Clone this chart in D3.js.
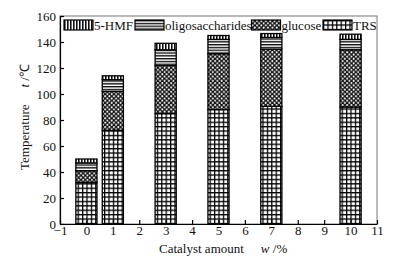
<!DOCTYPE html>
<html>
<head>
<meta charset="utf-8">
<script src="https://cdn.jsdelivr.net/npm/d3@7"></script>
<style>
  body { margin: 0; background: #fff; }
  text { font-family: "Liberation Serif", "Times New Roman", serif; fill: #111; }
</style>
</head>
<body>
<div id="chart"></div>
<script>
// catalyst amounts (w/%) and stacked segment values (temperature-scale units)
const catalyst = [0, 1, 3, 5, 7, 10];
const trs = [32, 72, 85, 88, 90.5, 90];
const glucose = [9, 30, 37, 43, 44, 44];
const oligosaccharides = [6, 9, 12, 11, 9, 8];
const hmf = [3, 3, 5, 3, 3, 4];
const xTicks = [-1, 0, 1, 2, 3, 4, 5, 6, 7, 8, 9, 10, 11];
const yTicks = [0, 20, 40, 60, 80, 100, 120, 140, 160];
const seriesNames = ["TRS", "glucose", "oligosaccharides", "5-HMF"];
const legendOrder = ["5-HMF", "oligosaccharides", "glucose", "TRS"];

const W = 403, H = 263;
const margin = { top: 16, right: 26, bottom: 39, left: 60 };
const width = W - margin.left - margin.right;
const height = H - margin.top - margin.bottom;

const svg = d3.select("#chart").append("svg")
	.attr("width", W)
	.attr("height", H);

// fill patterns
const defs = svg.append("defs");
const patId = { "TRS": "p-trs", "glucose": "p-glu", "oligosaccharides": "p-oli", "5-HMF": "p-hmf" };

let p = defs.append("pattern").attr("id", "p-trs").attr("patternUnits", "userSpaceOnUse")
	.attr("width", 4.4).attr("height", 4.4);
p.append("rect").attr("width", 4.4).attr("height", 4.4).attr("fill", "#fff");
p.append("path").attr("d", "M0,0.6H4.4M0.6,0V4.4").attr("stroke", "#000").attr("stroke-width", 1.3);

p = defs.append("pattern").attr("id", "p-glu").attr("patternUnits", "userSpaceOnUse")
	.attr("width", 4.4).attr("height", 4.4);
p.append("rect").attr("width", 4.4).attr("height", 4.4).attr("fill", "#111");
p.append("circle").attr("cx", 1.1).attr("cy", 1.1).attr("r", 1).attr("fill", "#fff");
p.append("circle").attr("cx", 3.3).attr("cy", 3.3).attr("r", 1).attr("fill", "#fff");

p = defs.append("pattern").attr("id", "p-oli").attr("patternUnits", "userSpaceOnUse")
	.attr("width", 4).attr("height", 2.8);
p.append("rect").attr("width", 4).attr("height", 2.8).attr("fill", "#fff");
p.append("path").attr("d", "M0,0.7H4").attr("stroke", "#000").attr("stroke-width", 1.3);

p = defs.append("pattern").attr("id", "p-hmf").attr("patternUnits", "userSpaceOnUse")
	.attr("width", 3).attr("height", 4);
p.append("rect").attr("width", 3).attr("height", 4).attr("fill", "#fff");
p.append("path").attr("d", "M0.8,0V4").attr("stroke", "#000").attr("stroke-width", 1.5);

const g = svg.append("g")
	.attr("transform", "translate(" + margin.left + "," + margin.top + ")");

// scales
const x = d3.scaleLinear().domain([-1, 11]).range([0, width]);
const y = d3.scaleLinear().domain([0, 160]).range([height, 0]);

// plot frame (top and right)
g.append("rect")
	.attr("width", width)
	.attr("height", height)
	.attr("fill", "none")
	.attr("stroke", "#777")
	.attr("stroke-width", 1);

// stacked data
const rows = catalyst.map((c, i) => ({
	c: c, "TRS": trs[i], "glucose": glucose[i], "oligosaccharides": oligosaccharides[i], "5-HMF": hmf[i]
}));
const stack = d3.stack().keys(seriesNames)(rows);
const barW = x(0.8) - x(0);

g.selectAll(".layer")
	.data(stack)
	.join("g")
	.attr("class", "layer")
	.attr("fill", d => "url(#" + patId[d.key] + ")")
	.selectAll("rect")
	.data(d => d)
	.join("rect")
	.attr("x", d => x(d.data.c) - barW / 2)
	.attr("y", d => y(d[1]))
	.attr("width", barW)
	.attr("height", d => y(d[0]) - y(d[1]))
	.attr("stroke", "#000")
	.attr("stroke-width", 1.3);

// axes
const xAxis = d3.axisBottom(x).tickValues(xTicks).tickSizeInner(-4).tickSizeOuter(0).tickPadding(2);
const yAxis = d3.axisLeft(y).tickValues(yTicks).tickSizeInner(-4).tickSizeOuter(0).tickPadding(4);

const gx = g.append("g").attr("transform", "translate(0," + height + ")").call(xAxis);
const gy = g.append("g").call(yAxis);
[gx, gy].forEach(a => {
	a.selectAll("path, line").attr("stroke", "#000").attr("stroke-width", 1.2);
	a.selectAll("text").attr("font-size", 13).attr("font-family", "Liberation Serif, serif").attr("fill", "#111");
});

// axis titles
const xt = svg.append("text")
	.attr("x", 159)
	.attr("y", 253)
	.attr("font-size", 13);
xt.append("tspan").text("Catalyst amount");
xt.append("tspan").attr("dx", 17).attr("font-style", "italic").text("w");
xt.append("tspan").text(" /%");

const yt = svg.append("text")
	.attr("transform", "translate(29,117) rotate(-90)")
	.attr("text-anchor", "middle")
	.attr("font-size", 13);
yt.append("tspan").text("Temperature");
yt.append("tspan").attr("dx", 17).attr("font-style", "italic").text("t");
yt.append("tspan").text(" /\u2103");

// legend
const legendPos = { "5-HMF": 4, "oligosaccharides": 75, "glucose": 191.5, "TRS": 263 };
const lg = g.append("g").attr("transform", "translate(0,4)");
legendOrder.forEach(k => {
	const item = lg.append("g").attr("transform", "translate(" + legendPos[k] + ",0)");
	item.append("rect")
		.attr("width", 29)
		.attr("height", 10)
		.attr("fill", "url(#" + patId[k] + ")")
		.attr("stroke", "#000")
		.attr("stroke-width", 1.2);
	item.append("text")
		.attr("x", 30)
		.attr("y", 9.5)
		.attr("font-size", 13)
		.text(k);
});
</script>
</body>
</html>
